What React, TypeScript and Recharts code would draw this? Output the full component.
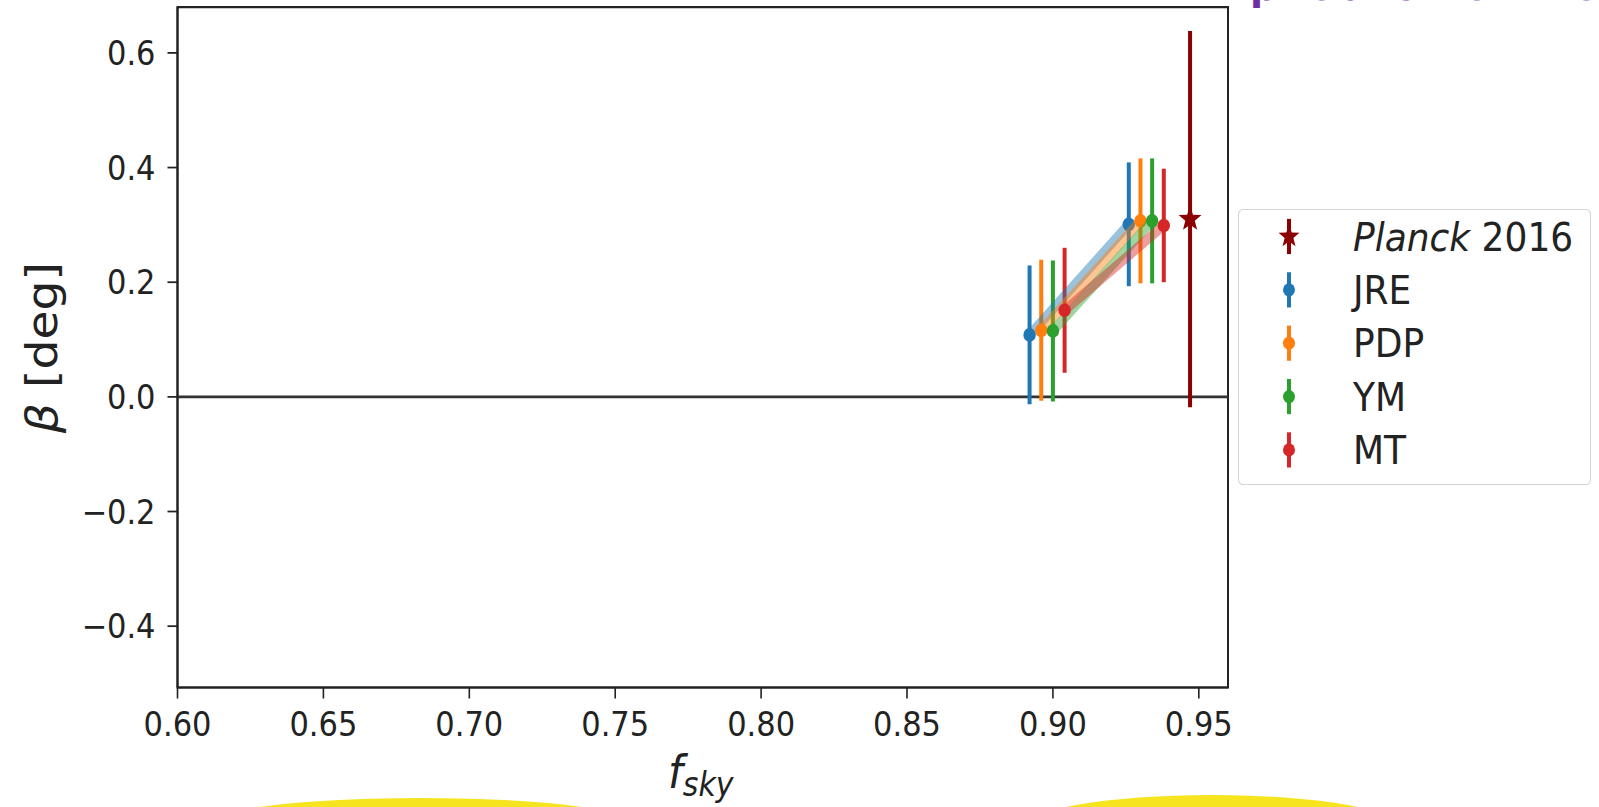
import React from "react";
import {
  ScatterChart,
  Scatter,
  XAxis,
  YAxis,
  ErrorBar,
  ReferenceLine,
  ReferenceArea,
  Legend,
} from "recharts";

// fsky / beta values (two masks per method)
const jreX = [0.892, 0.926];
const jreY = [0.108, 0.301];
const jreErr = [0.121, 0.108];

const pdpX = [0.896, 0.930];
const pdpY = [0.116, 0.307];
const pdpErr = [0.123, 0.109];

const ymX = [0.9, 0.934];
const ymY = [0.115, 0.307];
const ymErr = [0.123, 0.109];

const mtX = [0.904, 0.938];
const mtY = [0.151, 0.299];
const mtErr = [0.109, 0.099];

const planckX = [0.947];
const planckY = [0.31];
const planckErr = [0.328];

const xTicks = [0.6, 0.65, 0.7, 0.75, 0.8, 0.85, 0.9, 0.95];
const yTicks = [-0.4, -0.2, 0, 0.2, 0.4, 0.6];

const X_DOMAIN = [0.6, 0.96];
const Y_DOMAIN = [-0.507, 0.68];

// the original picture is stretched a bit vertically
const SY = 1.1;
const H = 734;
const FONT = "DejaVu Sans";

const toRows = (xs: number[], ys: number[], errs: number[]) =>
  xs.map((x, i) => ({ x, y: ys[i], err: errs[i] }));

const series = [
  { name: "JRE", color: "#1f77b4", data: toRows(jreX, jreY, jreErr) },
  { name: "PDP", color: "#ff7f0e", data: toRows(pdpX, pdpY, pdpErr) },
  { name: "YM", color: "#2ca02c", data: toRows(ymX, ymY, ymErr) },
  { name: "MT", color: "#d62728", data: toRows(mtX, mtY, mtErr) },
];
const planckData = toRows(planckX, planckY, planckErr);
const PLANCK_COLOR = "#8b0000";

const starPath = (cx: number, cy: number, R: number, r: number) => {
  let d = "";
  for (let i = 0; i < 10; i++) {
    const a = -Math.PI / 2 + (i * Math.PI) / 5;
    const rad = i % 2 === 0 ? R : r;
    d += (i === 0 ? "M" : "L") + (cx + rad * Math.cos(a)).toFixed(2) + "," + (cy + rad * Math.sin(a)).toFixed(2);
  }
  return d + "Z";
};

const XTick = (props: any) => (
  <text x={props.x} y={props.y} dy={32} textAnchor="middle" fontSize={30.5} fontFamily={FONT} fill="#222">
    {Number(props.payload.value).toFixed(2)}
  </text>
);

const YTick = (props: any) => {
  const v = Number(props.payload.value);
  const s = (v < 0 ? "\u2212" : "") + Math.abs(v).toFixed(1);
  return (
    <text x={props.x} y={props.y} dx={-10} dy={11} textAnchor="end" fontSize={30.5} fontFamily={FONT} fill="#222">
      {s}
    </text>
  );
};

const XLabel = () => (
  <text x={668} y={716} fontFamily={FONT} fill="#222" fontStyle="italic">
    <tspan fontSize={42}>f</tspan>
    <tspan fontSize={30} dy={7.5}>sky</tspan>
  </text>
);

const YLabel = () => (
  <text transform="translate(57,316) rotate(-90)" textAnchor="middle" fontSize={43} fontFamily={FONT} fill="#222">
    <tspan fontStyle="italic">β</tspan>
    <tspan> [deg]</tspan>
  </text>
);

const legendItems = [
  { name: "Planck", color: PLANCK_COLOR, star: true },
  ...series.map((s) => ({ name: s.name, color: s.color, star: false })),
];

const renderLegend = () => (
  <div
    style={{
      width: 353,
      height: 251,
      border: "1.5px solid #d4d4d4",
      borderRadius: 5,
      background: "rgba(255,255,255,0.85)",
      boxSizing: "border-box",
    }}
  >
    <svg width={350} height={248} style={{ display: "block" }}>
      {legendItems.map((it, i) => {
        const cy = 24 + i * 48.5;
        return (
          <g key={it.name}>
            <line x1={50} x2={50} y1={cy - 16} y2={cy + 16} stroke={it.color} strokeWidth={4} />
            {it.star ? (
              <path d={starPath(50, cy, 11, 4.6)} fill={it.color} />
            ) : (
              <circle cx={50} cy={cy} r={6} fill={it.color} />
            )}
            <text x={114} y={cy + 13} fontSize={36} fontFamily={FONT} fill="#222">
              {it.star ? (
                <>
                  <tspan fontStyle="italic">Planck</tspan>
                  <tspan> 2016</tspan>
                </>
              ) : (
                it.name
              )}
            </text>
          </g>
        );
      })}
    </svg>
  </div>
);

export default function App() {
  return (
    <div
      style={{
        position: "fixed",
        left: 0,
        top: 0,
        width: 1599,
        height: 807,
        background: "#fff",
        overflow: "hidden",
      }}
    >
      <div style={{ transform: `scaleY(${SY})`, transformOrigin: "0 0", width: 1599, height: H }}>
        <ScatterChart width={1599} height={H} margin={{ top: 6.4, right: 371, bottom: 0, left: 0 }}>
          <XAxis
            type="number"
            dataKey="x"
            domain={X_DOMAIN}
            ticks={xTicks}
            interval={0}
            allowDataOverflow
            height={109}
            tickSize={10}
            tick={<XTick />}
            axisLine={{ stroke: "#222", strokeWidth: 2 }}
            tickLine={{ stroke: "#222", strokeWidth: 1.6 }}
            label={{ content: () => <XLabel /> }}
          />
          <YAxis
            type="number"
            dataKey="y"
            domain={Y_DOMAIN}
            ticks={yTicks}
            interval={0}
            allowDataOverflow
            width={177.5}
            tickSize={10}
            tick={<YTick />}
            axisLine={{ stroke: "#222", strokeWidth: 2 }}
            tickLine={{ stroke: "#222", strokeWidth: 1.6 }}
            label={{ content: () => <YLabel /> }}
          />
          <ReferenceArea
            x1={X_DOMAIN[0]}
            x2={X_DOMAIN[1]}
            y1={Y_DOMAIN[0]}
            y2={Y_DOMAIN[1]}
            ifOverflow="visible"
            fill="none"
            fillOpacity={0}
            stroke="#222"
            strokeWidth={2}
            strokeOpacity={1}
          />
          <ReferenceLine y={0} stroke="#333" strokeWidth={2.4} />
          <Scatter
            name="Planck 2016"
            data={planckData}
            isAnimationActive={false}
            shape={(p: any) => <path d={starPath(p.cx, p.cy, 12, 5)} fill={PLANCK_COLOR} />}
          >
            <ErrorBar dataKey="err" direction="y" width={0} stroke={PLANCK_COLOR} strokeWidth={4} />
          </Scatter>
          {series.map((s) => (
            <Scatter
              key={s.name}
              name={s.name}
              data={s.data}
              isAnimationActive={false}
              line={{ stroke: s.color, strokeWidth: 9, strokeOpacity: 0.45 }}
              lineType="joint"
              shape={(p: any) => <circle cx={p.cx} cy={p.cy} r={6.2} fill={s.color} />}
            >
              <ErrorBar dataKey="err" direction="y" width={0} stroke={s.color} strokeWidth={4} />
            </Scatter>
          ))}
          <Legend
            layout="vertical"
            align="center"
            verticalAlign="middle"
            content={renderLegend}
            wrapperStyle={{ left: 1238, top: 190, width: 353, height: 251 }}
          />
        </ScatterChart>
      </div>
      <svg
        width={1599}
        height={807}
        style={{ position: "absolute", left: 0, top: 0, pointerEvents: "none" }}
      >
        <text x={1250} y={0} fontSize={38} fontWeight="bold" fontFamily={FONT} fill="#7030a0" letterSpacing={6}>
          prediction results
        </text>
        <ellipse cx={421} cy={820} rx={200} ry={22} fill="#f5e41e" />
        <ellipse cx={1212} cy={828} rx={190} ry={33} fill="#f5e41e" />
      </svg>
    </div>
  );
}
